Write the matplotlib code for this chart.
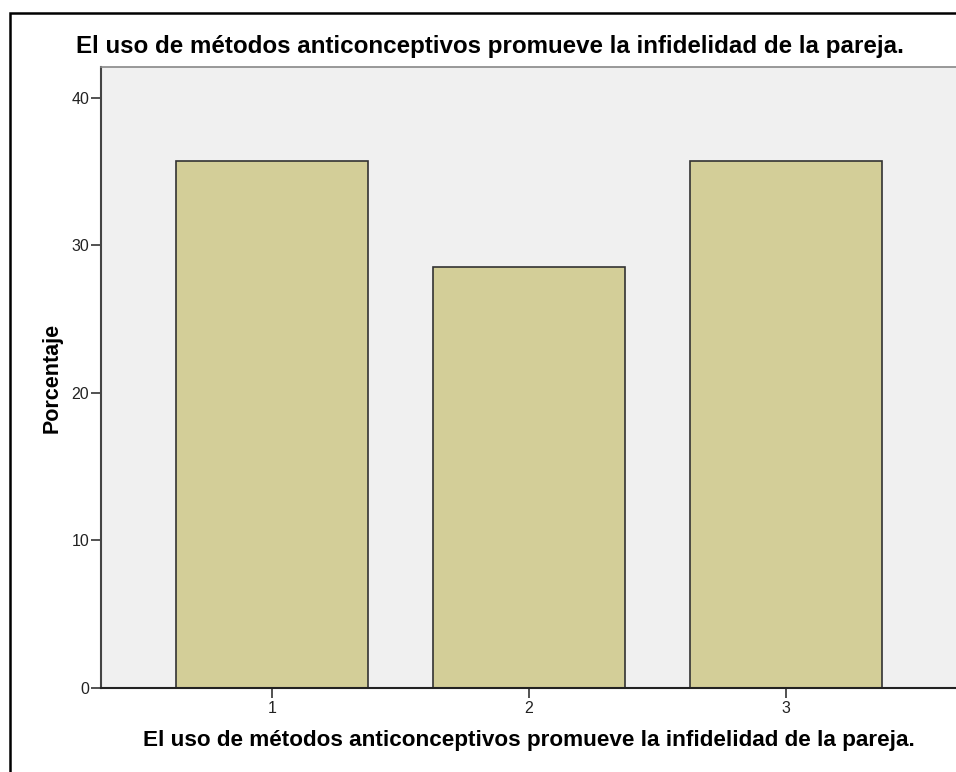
import matplotlib
matplotlib.use("Agg")
import matplotlib.pyplot as plt
from matplotlib.patches import Rectangle

plt.rcParams["font.family"] = ["Liberation Sans", "DejaVu Sans"]

categories = ["1", "2", "3"]
percentages = [35.71, 28.57, 35.71]
yticks = [0, 10, 20, 30, 40]
title = "El uso de métodos anticonceptivos promueve la infidelidad de la pareja."
xlabel = "El uso de métodos anticonceptivos promueve la infidelidad de la pareja."
ylabel = "Porcentaje"

W, H = 956, 772
fig = plt.figure(figsize=(W / 100, H / 100), dpi=100)
fig.patch.set_facecolor("white")

# outer frame
fig.add_artist(Rectangle((10 / W, -0.05), 1.1, (H - 13) / H + 0.05, transform=fig.transFigure,
                         fill=False, edgecolor="black", linewidth=1.8, zorder=0))

ax = fig.add_axes([101 / W, (H - 688) / H, 856 / W, 621 / H])
ax.set_facecolor("#F0F0F0")
x = list(range(1, len(categories) + 1))
ax.bar(x, percentages, width=0.75, color="#D3CE98", edgecolor="#333333", linewidth=1.2, zorder=2)
ax.set_xlim(0.335, 3.665)
ax.set_ylim(0, 42.1)
ax.set_xticks(x)
ax.set_xticklabels(categories)
ax.set_yticks(yticks)
ax.tick_params(axis="both", direction="out", length=7.5, width=1.2, color="#333333",
               labelsize=11.5, labelcolor="#222222", pad=1)
ax.tick_params(axis="x", pad=2)
ax.spines["right"].set_visible(False)
ax.spines["top"].set_color("#888888")
ax.spines["top"].set_linewidth(1.2)
ax.spines["left"].set_color("#444444")
ax.spines["left"].set_linewidth(1.5)
ax.spines["bottom"].set_color("#222222")
ax.spines["bottom"].set_linewidth(1.5)

fig.text(490 / W, 1 - 47 / H, title, ha="center", va="center",
         fontsize=17.4, fontweight="bold")
ax.set_xlabel(xlabel, fontsize=16.2, fontweight="bold", labelpad=10)
ax.set_ylabel(ylabel, fontsize=15.5, fontweight="bold", labelpad=6)

fig.savefig("out.png", dpi=100)
